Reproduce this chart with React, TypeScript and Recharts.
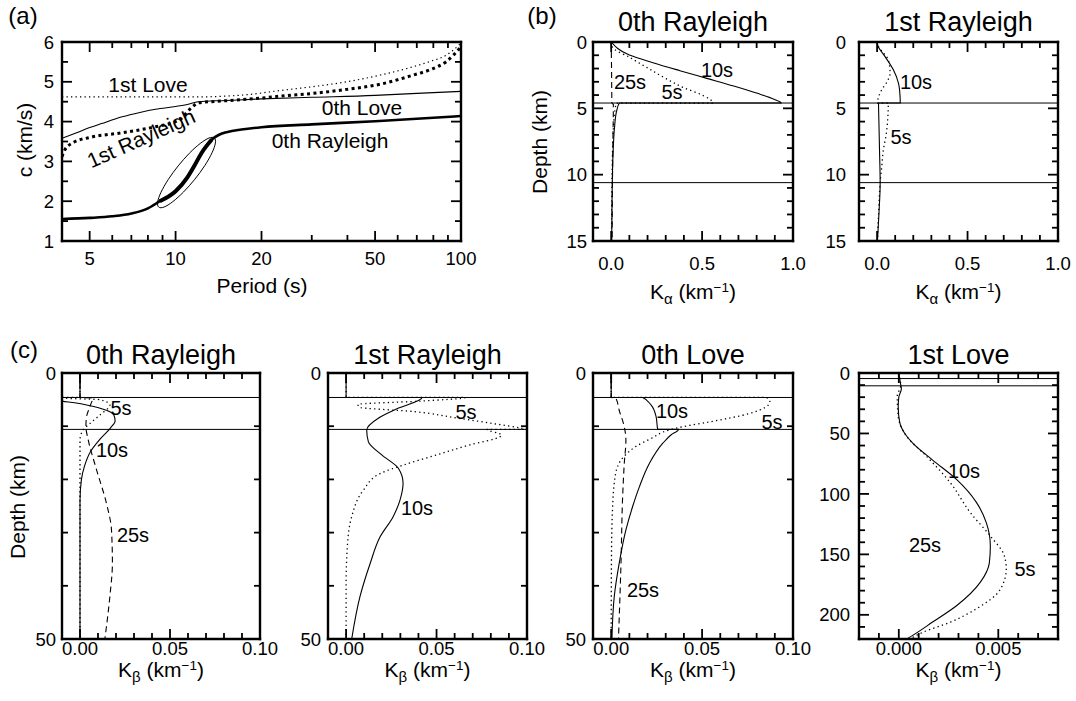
import React from 'react';
import { ScatterChart, Scatter, XAxis, YAxis, ReferenceLine } from 'recharts';

// ---------------- Panel (a): dispersion curves (period s, phase velocity km/s) ----------------
const rayleigh0Dispersion = [
  { t: 4, c: 1.55 }, { t: 5, c: 1.58 }, { t: 6, c: 1.62 }, { t: 7, c: 1.69 }, { t: 8, c: 1.82 },
  { t: 8.8, c: 2.0 }, { t: 10, c: 2.25 }, { t: 11, c: 2.6 }, { t: 11.7, c: 2.92 }, { t: 12.3, c: 3.2 },
  { t: 13.4, c: 3.55 }, { t: 14.2, c: 3.67 }, { t: 15.2, c: 3.74 }, { t: 17, c: 3.8 }, { t: 20, c: 3.86 },
  { t: 30, c: 3.93 }, { t: 50, c: 4.01 }, { t: 70, c: 4.07 }, { t: 100, c: 4.14 },
];
const rayleigh1Dispersion = [
  { t: 4, c: 3.12 }, { t: 4.1, c: 3.3 }, { t: 4.4, c: 3.48 }, { t: 5, c: 3.6 }, { t: 6.5, c: 3.72 },
  { t: 8.5, c: 3.87 }, { t: 10, c: 4.0 }, { t: 10.5, c: 4.08 }, { t: 11, c: 4.25 }, { t: 11.5, c: 4.38 },
  { t: 12, c: 4.47 }, { t: 14, c: 4.51 }, { t: 17, c: 4.55 }, { t: 20, c: 4.59 }, { t: 23.2, c: 4.64 },
  { t: 30.4, c: 4.71 }, { t: 39.8, c: 4.81 }, { t: 52.2, c: 4.94 }, { t: 68.1, c: 5.17 }, { t: 77.8, c: 5.3 },
  { t: 88.9, c: 5.51 }, { t: 100, c: 5.88 },
];
const love0Dispersion = [
  { t: 4, c: 3.58 }, { t: 4.5, c: 3.72 }, { t: 5, c: 3.85 }, { t: 5.5, c: 3.95 }, { t: 6.5, c: 4.12 },
  { t: 7.5, c: 4.23 }, { t: 8.5, c: 4.31 }, { t: 10, c: 4.38 }, { t: 11, c: 4.43 }, { t: 12, c: 4.5 },
  { t: 15, c: 4.53 }, { t: 20, c: 4.57 }, { t: 30, c: 4.61 }, { t: 50, c: 4.66 }, { t: 70, c: 4.71 }, { t: 100, c: 4.76 },
];
const love1Dispersion = [
  { t: 4, c: 4.62 }, { t: 8, c: 4.62 }, { t: 12, c: 4.62 }, { t: 15, c: 4.64 }, { t: 18, c: 4.68 },
  { t: 23.2, c: 4.78 }, { t: 30.4, c: 4.88 }, { t: 39.8, c: 5.0 }, { t: 52.2, c: 5.17 }, { t: 68.1, c: 5.38 },
  { t: 77.8, c: 5.51 }, { t: 88.9, c: 5.67 }, { t: 100, c: 5.97 },
];
const highlightEllipse = [
  { t: 13.75, c: 3.61 }, { t: 13.87, c: 3.48 }, { t: 13.49, c: 3.23 }, { t: 12.71, c: 2.9 },
  { t: 11.71, c: 2.55 }, { t: 10.66, c: 2.22 }, { t: 9.75, c: 1.97 }, { t: 9.07, c: 1.83 },
  { t: 8.68, c: 1.83 }, { t: 8.6, c: 1.96 }, { t: 8.84, c: 2.21 }, { t: 9.39, c: 2.54 },
  { t: 10.19, c: 2.89 }, { t: 11.19, c: 3.22 }, { t: 12.24, c: 3.47 }, { t: 13.15, c: 3.61 },
];

// ---------------- Panel (b): P-wave kernels (k in 1/km, depth d in km) ----------------
const kaR0_10s = [
  { k: 0, d: 0 }, { k: 0.1, d: 0.98 }, { k: 0.23, d: 1.56 }, { k: 0.378, d: 2.16 }, { k: 0.526, d: 2.74 },
  { k: 0.674, d: 3.32 }, { k: 0.804, d: 3.87 }, { k: 0.896, d: 4.32 }, { k: 0.935, d: 4.6 }, { k: 0.045, d: 4.6 },
  { k: 0.03, d: 5.2 }, { k: 0.018, d: 6.5 }, { k: 0.01, d: 8.5 }, { k: 0.006, d: 10.6 }, { k: 0.004, d: 13 }, { k: 0.003, d: 15 },
];
const kaR0_5s = [
  { k: 0, d: 0 }, { k: 0.007, d: 0.4 }, { k: 0.1, d: 1.15 }, { k: 0.2, d: 1.95 }, { k: 0.3, d: 2.75 },
  { k: 0.4, d: 3.45 }, { k: 0.5, d: 4.0 }, { k: 0.56, d: 4.6 }, { k: 0.03, d: 4.6 }, { k: 0.02, d: 5.2 },
  { k: 0.012, d: 6.5 }, { k: 0.007, d: 8.5 }, { k: 0.004, d: 10.6 }, { k: 0.002, d: 15 },
];
const kaR0_25s = [
  { k: 0, d: 0 }, { k: 0.002, d: 2 }, { k: 0.004, d: 4.6 }, { k: 0.012, d: 4.7 }, { k: 0.01, d: 7 },
  { k: 0.007, d: 10.6 }, { k: 0.005, d: 15 },
];
const kaR1_10s = [
  { k: 0, d: 0 }, { k: 0.005, d: 0.3 }, { k: 0.044, d: 1.1 }, { k: 0.09, d: 2.1 }, { k: 0.118, d: 3.1 },
  { k: 0.127, d: 4.1 }, { k: 0.128, d: 4.6 }, { k: 0.008, d: 4.6 }, { k: 0.01, d: 6 }, { k: 0.014, d: 8.5 },
  { k: 0.017, d: 10.6 }, { k: 0.01, d: 13 }, { k: 0.002, d: 15 },
];
const kaR1_5s = [
  { k: 0, d: 0 }, { k: 0.007, d: 0.35 }, { k: 0.04, d: 0.9 }, { k: 0.062, d: 1.36 }, { k: 0.072, d: 2.36 },
  { k: 0.055, d: 3.0 }, { k: 0.026, d: 3.6 }, { k: 0.005, d: 4.3 }, { k: 0.003, d: 4.6 }, { k: 0.062, d: 4.6 },
  { k: 0.06, d: 5.5 }, { k: 0.05, d: 7 }, { k: 0.035, d: 8.1 }, { k: 0.025, d: 9.5 }, { k: 0.017, d: 10.6 },
  { k: 0.008, d: 13 }, { k: 0.002, d: 15 },
];

// ---------------- Panel (c): S-wave kernels ----------------
const kbR0_10s = [
  { k: 0, d: 0 }, { k: 0, d: 4.6 }, { k: -0.012, d: 4.6 }, { k: -0.011, d: 5.2 }, { k: -0.003, d: 5.6 },
  { k: 0.0037, d: 6.0 }, { k: 0.0147, d: 7.0 }, { k: 0.0188, d: 7.9 }, { k: 0.0195, d: 9.0 }, { k: 0.017, d: 10.3 },
  { k: 0.0115, d: 12.3 }, { k: 0.0058, d: 14.8 }, { k: 0.0025, d: 17.5 }, { k: 0.0008, d: 20 }, { k: 0, d: 24 }, { k: 0, d: 50 },
];
const kbR0_5s = [
  { k: 0, d: 0 }, { k: 0, d: 4.6 }, { k: -0.012, d: 4.6 }, { k: -0.008, d: 4.76 }, { k: 0.011, d: 5.0 },
  { k: 0.0166, d: 6.0 }, { k: 0.011, d: 7.9 }, { k: 0.0055, d: 9.5 }, { k: 0.0018, d: 10.7 }, { k: 0, d: 12.6 }, { k: 0, d: 50 },
];
const kbR0_25s = [
  { k: 0, d: 0 }, { k: 0, d: 4.6 }, { k: 0.007, d: 4.7 }, { k: 0.0055, d: 6.3 }, { k: 0.0035, d: 8.5 },
  { k: 0.0033, d: 10.1 }, { k: 0.0046, d: 12.6 }, { k: 0.0092, d: 18.2 }, { k: 0.0147, d: 24.5 },
  { k: 0.0175, d: 29.5 }, { k: 0.018, d: 35.7 }, { k: 0.0166, d: 42 }, { k: 0.0138, d: 50 },
];
const kbR1_10s = [
  { k: 0, d: 0 }, { k: 0, d: 4.6 }, { k: 0.042, d: 4.6 }, { k: 0.029, d: 6.6 }, { k: 0.0178, d: 8.5 },
  { k: 0.0114, d: 10.7 }, { k: 0.0123, d: 12.9 }, { k: 0.0197, d: 15.4 }, { k: 0.0289, d: 17.9 },
  { k: 0.0315, d: 20.7 }, { k: 0.0298, d: 23.9 }, { k: 0.026, d: 27 }, { k: 0.0188, d: 30.8 },
  { k: 0.0133, d: 35.8 }, { k: 0.0077, d: 42 }, { k: 0.0031, d: 50 },
];
const kbR1_5s = [
  { k: 0, d: 0 }, { k: 0, d: 4.6 }, { k: 0.066, d: 4.6 }, { k: 0.04, d: 5.3 }, { k: 0.0066, d: 5.9 },
  { k: 0.007, d: 6.4 }, { k: 0.038, d: 7.27 }, { k: 0.062, d: 8.5 }, { k: 0.0805, d: 9.46 }, { k: 0.097, d: 10.4 },
  { k: 0.1, d: 10.6 }, { k: 0.078, d: 10.6 }, { k: 0.086, d: 11.65 }, { k: 0.085, d: 12 }, { k: 0.0685, d: 13.5 },
  { k: 0.05, d: 15.4 }, { k: 0.0317, d: 17.3 }, { k: 0.0188, d: 18.9 }, { k: 0.0096, d: 22 }, { k: 0.0031, d: 27 },
  { k: 0.0007, d: 32.6 }, { k: 0, d: 40 }, { k: 0, d: 50 },
];
const kbL0_10s = [
  { k: 0, d: 0 }, { k: 0, d: 4.6 }, { k: 0.0173, d: 4.6 }, { k: 0.0219, d: 6 }, { k: 0.0247, d: 8.2 },
  { k: 0.0256, d: 10.6 }, { k: 0.037, d: 10.6 }, { k: 0.033, d: 11.6 }, { k: 0.0284, d: 13.2 }, { k: 0.021, d: 17 },
  { k: 0.0155, d: 21.4 }, { k: 0.0118, d: 25.1 }, { k: 0.0081, d: 29.5 }, { k: 0.0044, d: 35.8 }, { k: 0.0017, d: 42 }, { k: 0.0004, d: 50 },
];
const kbL0_5s = [
  { k: 0, d: 0 }, { k: 0, d: 4.6 }, { k: 0.0855, d: 4.6 }, { k: 0.0873, d: 5.4 }, { k: 0.0762, d: 7.6 },
  { k: 0.054, d: 9.2 }, { k: 0.0394, d: 10.1 }, { k: 0.032, d: 10.7 }, { k: 0.022, d: 12.3 }, { k: 0.0136, d: 13.8 },
  { k: 0.0081, d: 15.3 }, { k: 0.0035, d: 17.6 }, { k: 0.0017, d: 20.7 }, { k: 0.0007, d: 26 }, { k: 0.0002, d: 33 }, { k: 0, d: 50 },
];
const kbL0_25s = [
  { k: 0, d: 0 }, { k: 0, d: 4.6 }, { k: 0.0026, d: 4.76 }, { k: 0.0044, d: 7 }, { k: 0.0072, d: 10.1 },
  { k: 0.0081, d: 12.6 }, { k: 0.0072, d: 17 }, { k: 0.0063, d: 23.3 }, { k: 0.0054, d: 35.8 }, { k: 0.004, d: 50 },
];
const kbL1_10s = [
  { k: 0, d: 0 }, { k: 0.00005, d: 5 }, { k: 0.0001, d: 10 }, { k: 0.00013, d: 13 }, { k: 0, d: 20 },
  { k: -0.00003, d: 28 }, { k: 0.00005, d: 41 }, { k: 0.0003, d: 50 }, { k: 0.0007, d: 58 }, { k: 0.0017, d: 72 },
  { k: 0.0029, d: 88 }, { k: 0.0039, d: 107 }, { k: 0.0044, d: 124 }, { k: 0.0046, d: 143 }, { k: 0.00455, d: 157 },
  { k: 0.0041, d: 173 }, { k: 0.0029, d: 192.5 }, { k: 0.0017, d: 206 }, { k: 0.0007, d: 217 }, { k: 0.0004, d: 220 },
];
const kbL1_5s = [
  { k: 0, d: 0 }, { k: 0.00005, d: 5 }, { k: 0.0001, d: 10 }, { k: -0.00008, d: 19.5 }, { k: -0.00003, d: 36 },
  { k: 0.0004, d: 52.5 }, { k: 0.0014, d: 69 }, { k: 0.0026, d: 91 }, { k: 0.0036, d: 115.6 }, { k: 0.0046, d: 134.8 },
  { k: 0.0053, d: 151 }, { k: 0.0054, d: 162 }, { k: 0.0051, d: 179 }, { k: 0.0039, d: 195 }, { k: 0.0026, d: 206 },
  { k: 0.0012, d: 214.5 }, { k: 0.00055, d: 220 },
];

// layer boundaries (km)
const layerDepths = [4.6, 10.6];

// tick values
const periodLabels = [5, 10, 20, 50, 100];
const periodMajor = [5, 10, 20, 50];
const periodMinor = [6, 7, 8, 9, 30, 40, 60, 70, 80, 90];
const velocityLabels = [1, 2, 3, 4, 5, 6];
const velocityMajor = [2, 3, 4, 5];
const velocityMinor = [1.5, 2.5, 3.5, 4.5, 5.5];
const kaLabels = [0, 0.5, 1.0];
const kaMajor = [0, 0.5];
const kaMinor = [0.1, 0.2, 0.3, 0.4, 0.6, 0.7, 0.8, 0.9];
const shallowDepthLabels = [0, 5, 10, 15];
const shallowDepthMajor = [5, 10];
const shallowDepthMinor = [1, 2, 3, 4, 6, 7, 8, 9, 11, 12, 13, 14];
const kbLabels = [0, 0.05, 0.1];
const kbMajor = [0, 0.05];
const kbMinor = [0.01, 0.02, 0.03, 0.04, 0.06, 0.07, 0.08, 0.09];
const depth50Labels = [0, 50];
const depth50Minor = [10, 20, 30, 40];
const kbSmallLabels = [0, 0.005];
const kbSmallMajor = [0, 0.005];
const kbSmallMinor = [-0.001, 0.001, 0.002, 0.003, 0.004, 0.006, 0.007];
const deepLabels = [0, 50, 100, 150, 200];
const deepMajor = [50, 100, 150, 200];
const deepMinor = [10, 20, 30, 40, 60, 70, 80, 90, 110, 120, 130, 140, 160, 170, 180, 190, 210];

// ---------------- rendering ----------------
const FONT = '"Liberation Sans", Arial, Helvetica, sans-serif';
const PAD_L = 60, PAD_T = 16, PAD_R = 26, PAD_B = 34;
const MAJOR_LEN = 10, MINOR_LEN = 6;
const TICK_W = 1.8;
const TICK_FONT = 18.5;

type Pt = Record<string, number>;
interface SeriesDef { name: string; data: Pt[]; width: number; dash?: string; joint?: string; }
interface PanelDef {
  id: string;
  box: { left: number; top: number; width: number; height: number };
  xKey: string; yKey: string;
  xDomain: [number, number]; yDomain: [number, number];
  xLog?: boolean; yReversed?: boolean;
  xLabels: number[]; xMajor: number[]; xMinor: number[];
  yLabels: number[]; yMajor: number[]; yMinor: number[];
  xFmt: (v: number) => string; yFmt: (v: number) => string;
  xLabelDy: number; yLabelGap: number;
  series: SeriesDef[];
  hLines?: number[];
  joint: string;
}

const makeLabel = (side: 'bottom' | 'left', fmt: (v: number) => string, offset: number) => (props: any) => {
  const { x, y, payload } = props;
  const v = payload.value as number;
  if (side === 'bottom') {
    return (
      <text x={x} y={y + offset + 0.36 * TICK_FONT} textAnchor="middle" fontSize={TICK_FONT} fontFamily={FONT} fill="#000">{fmt(v)}</text>
    );
  }
  return (
    <text x={x - offset} y={y + 0.36 * TICK_FONT} textAnchor="end" fontSize={TICK_FONT} fontFamily={FONT} fill="#000">{fmt(v)}</text>
  );
};

const frame = { stroke: '#000', strokeWidth: 2.4, strokeLinecap: 'square' as const };
const noShape = () => <g />;

type Seg = { key: string; segment: [{ x: number; y: number }, { x: number; y: number }] };

// inward tick marks, expressed in data units so that the library's scales place them
function tickSegments(p: PanelDef): Seg[] {
  const [x0, x1] = p.xDomain;
  const [y0, y1] = p.yDomain;
  const yPerPx = (y1 - y0) / p.box.height;
  const yBottom = p.yReversed ? y1 : y0;
  const yTop = p.yReversed ? y0 : y1;
  const inward = p.yReversed ? -1 : 1;
  const xIn = (edge: 'l' | 'r', len: number) => {
    if (p.xLog) {
      const f = Math.pow(10, (len * Math.log10(x1 / x0)) / p.box.width);
      return edge === 'l' ? x0 * f : x1 / f;
    }
    const d = (len * (x1 - x0)) / p.box.width;
    return edge === 'l' ? x0 + d : x1 - d;
  };
  const segs: Seg[] = [];
  const xs = [...p.xMajor.map((v) => [v, MAJOR_LEN]), ...p.xMinor.map((v) => [v, MINOR_LEN])];
  xs.forEach(([v, len]) => {
    segs.push({ key: `xb${v}`, segment: [{ x: v, y: yBottom }, { x: v, y: yBottom + inward * len * yPerPx }] });
    segs.push({ key: `xt${v}`, segment: [{ x: v, y: yTop }, { x: v, y: yTop - inward * len * yPerPx }] });
  });
  const ys = [...p.yMajor.map((v) => [v, MAJOR_LEN]), ...p.yMinor.map((v) => [v, MINOR_LEN])];
  ys.forEach(([v, len]) => {
    segs.push({ key: `yl${v}`, segment: [{ x: x0, y: v }, { x: xIn('l', len), y: v }] });
    segs.push({ key: `yr${v}`, segment: [{ x: x1, y: v }, { x: xIn('r', len), y: v }] });
  });
  return segs;
}

function Panel({ p }: { p: PanelDef }) {
  const W = p.box.width + PAD_L + PAD_R;
  const H = p.box.height + PAD_T + PAD_B;
  const xs = { type: 'number' as const, allowDataOverflow: true, interval: 0 as const, dataKey: p.xKey, domain: p.xDomain, scale: (p.xLog ? 'log' : 'linear') as any };
  const ys = { type: 'number' as const, allowDataOverflow: true, interval: 0 as const, dataKey: p.yKey, domain: p.yDomain, reversed: p.yReversed };
  return (
    <div style={{ position: 'absolute', left: p.box.left - PAD_L, top: p.box.top - PAD_T }}>
      <ScatterChart width={W} height={H} margin={{ top: PAD_T, right: PAD_R, bottom: 0, left: 0 }}>
        <XAxis {...xs} xAxisId="b" orientation="bottom" ticks={p.xLabels} height={PAD_B} tickLine={false} tickSize={0} tickMargin={0}
          axisLine={frame} tick={makeLabel('bottom', p.xFmt, p.xLabelDy)} />
        <YAxis {...ys} yAxisId="l" orientation="left" ticks={p.yLabels} width={PAD_L} tickLine={false} tickSize={0} tickMargin={0}
          axisLine={frame} tick={makeLabel('left', p.yFmt, p.yLabelGap)} />
        <XAxis {...xs} xAxisId="tf" orientation="top" mirror ticks={[p.xDomain[0]]} height={1} tick={false} tickLine={false} axisLine={frame} />
        <YAxis {...ys} yAxisId="rf" orientation="right" mirror ticks={[p.yDomain[0]]} width={1} tick={false} tickLine={false} axisLine={frame} />
        {tickSegments(p).map((s) => (
          <ReferenceLine key={s.key} segment={s.segment} xAxisId="b" yAxisId="l" stroke="#000" strokeWidth={TICK_W} ifOverflow="visible" />
        ))}
        {(p.hLines || []).map((h) => (
          <ReferenceLine key={'h' + h} y={h} xAxisId="b" yAxisId="l" stroke="#000" strokeWidth={1} />
        ))}
        {p.series.map((s) => (
          <Scatter key={s.name} name={s.name} data={s.data} xAxisId="b" yAxisId="l" fill="none"
            line={{ stroke: '#000', strokeWidth: s.width, strokeDasharray: s.dash, strokeLinecap: 'butt', fill: 'none' }}
            lineType="joint" lineJointType={(s.joint || p.joint) as any} shape={noShape} isAnimationActive={false} />
        ))}
      </ScatterChart>
    </div>
  );
}

const DOT = '1.3 3.2';
const DASH = '6 4';
const int = (v: number) => String(v);
const f1 = (v: number) => v.toFixed(1);
const f2 = (v: number) => v.toFixed(2);
const f3 = (v: number) => v.toFixed(3);

const cBase = {
  xKey: 'k', yKey: 'd', yReversed: true, joint: 'monotoneY', xLabelDy: 9, hLines: layerDepths,
  xFmt: f2, yFmt: int,
} as const;

const panels: PanelDef[] = [
  {
    id: 'a', box: { left: 62, top: 42, width: 399, height: 199 }, xKey: 't', yKey: 'c',
    xDomain: [4, 100], yDomain: [1, 6], xLog: true, joint: 'monotoneX',
    xLabels: periodLabels, xMajor: periodMajor, xMinor: periodMinor,
    yLabels: velocityLabels, yMajor: velocityMajor, yMinor: velocityMinor,
    xFmt: int, yFmt: int, xLabelDy: 17, yLabelGap: 8,
    series: [
      { name: '1st Love', data: love1Dispersion, width: 1.2, dash: DOT },
      { name: '0th Love', data: love0Dispersion, width: 1.1 },
      { name: '1st Rayleigh', data: rayleigh1Dispersion, width: 3, dash: '3 3.4' },
      { name: '0th Rayleigh', data: rayleigh0Dispersion, width: 2.6 },
      { name: '0th Rayleigh (highlight)', data: rayleigh0Dispersion.filter((q) => q.t >= 8.8 && q.t <= 13.4), width: 4 },
      { name: 'ellipse', data: highlightEllipse, width: 1, joint: 'basisClosed' },
    ],
  },
  {
    id: 'b1', box: { left: 593, top: 42, width: 200, height: 199 }, xKey: 'k', yKey: 'd',
    xDomain: [-0.1, 1.0], yDomain: [0, 15], yReversed: true, joint: 'monotoneY', hLines: layerDepths,
    xLabels: kaLabels, xMajor: kaMajor, xMinor: kaMinor,
    yLabels: shallowDepthLabels, yMajor: shallowDepthMajor, yMinor: shallowDepthMinor,
    xFmt: f1, yFmt: int, xLabelDy: 22, yLabelGap: 6,
    series: [
      { name: '10s', data: kaR0_10s, width: 1.1 },
      { name: '5s', data: kaR0_5s, width: 1.3, dash: DOT },
      { name: '25s', data: kaR0_25s, width: 1.1, dash: DASH },
    ],
  },
  {
    id: 'b2', box: { left: 859, top: 42, width: 199, height: 199 }, xKey: 'k', yKey: 'd',
    xDomain: [-0.1, 1.0], yDomain: [0, 15], yReversed: true, joint: 'monotoneY', hLines: layerDepths,
    xLabels: kaLabels, xMajor: kaMajor, xMinor: kaMinor,
    yLabels: shallowDepthLabels, yMajor: shallowDepthMajor, yMinor: shallowDepthMinor,
    xFmt: f1, yFmt: int, xLabelDy: 22, yLabelGap: 13,
    series: [
      { name: '10s', data: kaR1_10s, width: 1.1 },
      { name: '5s', data: kaR1_5s, width: 1.3, dash: DOT },
    ],
  },
  {
    ...cBase, id: 'c1', box: { left: 62, top: 373, width: 198, height: 266 },
    xDomain: [-0.01, 0.1], yDomain: [0, 50],
    xLabels: kbLabels, xMajor: kbMajor, xMinor: kbMinor, yLabels: depth50Labels, yMajor: [], yMinor: depth50Minor,
    yLabelGap: 6,
    series: [
      { name: '10s', data: kbR0_10s, width: 1.1 },
      { name: '5s', data: kbR0_5s, width: 1.3, dash: DOT },
      { name: '25s', data: kbR0_25s, width: 1.1, dash: DASH },
    ],
  },
  {
    ...cBase, id: 'c2', box: { left: 328, top: 373, width: 199, height: 266 },
    xDomain: [-0.01, 0.1], yDomain: [0, 50],
    xLabels: kbLabels, xMajor: kbMajor, xMinor: kbMinor, yLabels: depth50Labels, yMajor: [], yMinor: depth50Minor,
    yLabelGap: 7,
    series: [
      { name: '10s', data: kbR1_10s, width: 1.1 },
      { name: '5s', data: kbR1_5s, width: 1.3, dash: DOT },
    ],
  },
  {
    ...cBase, id: 'c3', box: { left: 593, top: 373, width: 200, height: 266 },
    xDomain: [-0.01, 0.1], yDomain: [0, 50],
    xLabels: kbLabels, xMajor: kbMajor, xMinor: kbMinor, yLabels: depth50Labels, yMajor: [], yMinor: depth50Minor,
    yLabelGap: 7,
    series: [
      { name: '10s', data: kbL0_10s, width: 1.1 },
      { name: '5s', data: kbL0_5s, width: 1.3, dash: DOT },
      { name: '25s', data: kbL0_25s, width: 1.1, dash: DASH },
    ],
  },
  {
    ...cBase, id: 'c4', box: { left: 859, top: 373, width: 199, height: 266 },
    xDomain: [-0.002, 0.008], yDomain: [0, 220],
    xLabels: kbSmallLabels, xMajor: kbSmallMajor, xMinor: kbSmallMinor, yLabels: deepLabels, yMajor: deepMajor, yMinor: deepMinor,
    xFmt: f3, yLabelGap: 9,
    series: [
      { name: '10s', data: kbL1_10s, width: 1.1 },
      { name: '5s', data: kbL1_5s, width: 1.3, dash: DOT },
    ],
  },
];

function T({ x, y, size, children, anchor = 'middle', rotate }: { x: number; y: number; size: number; children: React.ReactNode; anchor?: string; rotate?: number }) {
  return (
    <text x={x} y={y + 0.36 * size} fontSize={size} textAnchor={anchor as any} fontFamily={FONT} fill="#000"
      transform={rotate ? `rotate(${rotate} ${x} ${y})` : undefined}>{children}</text>
  );
}

function KLabel({ x, y, greek }: { x: number; y: number; greek: string }) {
  return (
    <T x={x} y={y} size={21}>
      K<tspan fontSize={15} dy={5}>{greek}</tspan><tspan dy={-5}> (km</tspan>
      <tspan fontSize={13.5} dy={-7}>−1</tspan><tspan dy={7}>)</tspan>
    </T>
  );
}

export default function App() {
  return (
    <div style={{ position: 'absolute', left: 0, top: 0, width: 1076, height: 701, background: '#fff', fontFamily: FONT }}>
      {panels.map((p) => <Panel key={p.id} p={p} />)}
      <svg width={1076} height={701} style={{ position: 'absolute', left: 0, top: 0, pointerEvents: 'none' }}>
        {/* panel letters */}
        <T x={23} y={15} size={24}>(a)</T>
        <T x={542} y={15} size={24}>(b)</T>
        <T x={24} y={349} size={24}>(c)</T>
        {/* titles */}
        <T x={693} y={21.5} size={27}>0th Rayleigh</T>
        <T x={958.5} y={21.5} size={27}>1st Rayleigh</T>
        <T x={161} y={354} size={27}>0th Rayleigh</T>
        <T x={427.5} y={354} size={27}>1st Rayleigh</T>
        <T x={693} y={354} size={27}>0th Love</T>
        <T x={958.5} y={354} size={27}>1st Love</T>
        {/* axis titles */}
        <T x={262} y={285} size={21}>Period (s)</T>
        <T x={24} y={140} size={21} rotate={-90}>c (km/s)</T>
        <T x={539} y={142} size={21} rotate={-90}>Depth (km)</T>
        <T x={17} y={507} size={21} rotate={-90}>Depth (km)</T>
        <KLabel x={693} y={291.5} greek="α" />
        <KLabel x={958.5} y={291.5} greek="α" />
        <KLabel x={161} y={669} greek="β" />
        <KLabel x={427.5} y={669} greek="β" />
        <KLabel x={693} y={669} greek="β" />
        <KLabel x={958.5} y={669} greek="β" />
        {/* curve labels (a) */}
        <T x={148} y={84} size={21}>1st Love</T>
        <T x={362} y={107.5} size={21}>0th Love</T>
        <T x={330} y={140} size={21}>0th Rayleigh</T>
        <T x={141} y={138} size={21} rotate={-24}>1st Rayleigh</T>
        {/* curve labels (b) */}
        <T x={717} y={70} size={20}>10s</T>
        <T x={630} y={82} size={20}>25s</T>
        <T x={672} y={92} size={20}>5s</T>
        <T x={916} y={82} size={20}>10s</T>
        <T x={901} y={137} size={20}>5s</T>
        {/* curve labels (c) */}
        <T x={121} y={408} size={20}>5s</T>
        <T x={112} y={450} size={20}>10s</T>
        <T x={133} y={535} size={20}>25s</T>
        <T x={466} y={412} size={20}>5s</T>
        <T x={417} y={508} size={20}>10s</T>
        <T x={672} y={411} size={20}>10s</T>
        <T x={772} y={422} size={20}>5s</T>
        <T x={643} y={590} size={20}>25s</T>
        <T x={964} y={471} size={20}>10s</T>
        <T x={925} y={545} size={20}>25s</T>
        <T x={1025} y={569} size={20}>5s</T>
      </svg>
    </div>
  );
}
